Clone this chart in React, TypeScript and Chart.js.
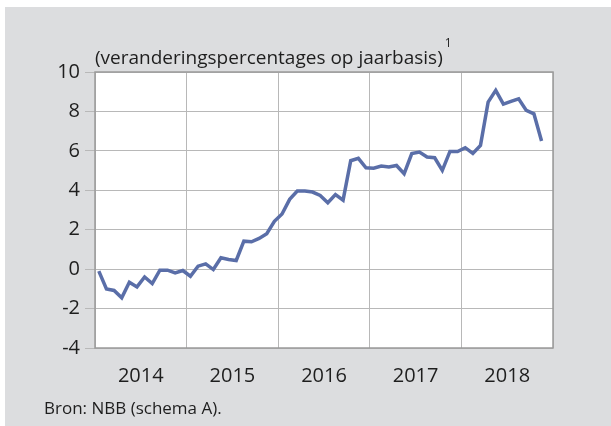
import { useEffect, useRef } from 'react';
import { Chart, registerables } from 'chart.js';

Chart.register(...registerables);

// ---- Data ----
const years = ['2014', '2015', '2016', '2017', '2018'];
const monthsPerYear = 12;
// Monthly year-on-year change (%), Jan 2014 – Nov 2018
const values2014 = [-0.1, -1.0, -1.08, -1.45, -0.66, -0.9, -0.4, -0.73, -0.05, -0.05, -0.19, -0.07];
const values2015 = [-0.36, 0.15, 0.27, -0.02, 0.58, 0.49, 0.44, 1.42, 1.39, 1.56, 1.8, 2.43];
const values2016 = [2.8, 3.54, 3.96, 3.96, 3.91, 3.74, 3.37, 3.78, 3.5, 5.5, 5.62, 5.14];
const values2017 = [5.12, 5.23, 5.18, 5.26, 4.84, 5.86, 5.94, 5.69, 5.65, 5.01, 5.97, 5.97];
const values2018 = [6.16, 5.87, 6.28, 8.47, 9.07, 8.37, 8.51, 8.64, 8.05, 7.88, 6.5];
const seriesValues = [...values2014, ...values2015, ...values2016, ...values2017, ...values2018];

const yMin = -4;
const yMax = 10;
const yStep = 2;

const titleText = '(veranderingspercentages op jaarbasis)';
const footnoteMark = '1';
const sourceText = 'Bron: NBB (schema A).';

// ---- Styles ----
const FONT = "'Open Sans', 'DejaVu Sans', sans-serif";
const TEXT_COLOR = '#1e1e1e';
const PANEL_BG = '#dcdddf';
const GRID_COLOR = '#b8b8b8';
const BORDER_COLOR = '#9a9a9a';
const LINE_COLOR = '#5a6ea8';

const backgroundPlugin = {
  id: 'panelBackground',
  beforeDraw(chart: any) {
    const { ctx, width, height, chartArea } = chart;
    ctx.save();
    ctx.fillStyle = '#ffffff';
    ctx.fillRect(0, 0, width, height);
    ctx.fillStyle = PANEL_BG;
    ctx.fillRect(5, 7, width - 5, height - 7);
    ctx.fillStyle = '#ffffff';
    ctx.fillRect(chartArea.left, chartArea.top, chartArea.right - chartArea.left, chartArea.bottom - chartArea.top);
    ctx.restore();
  },
  beforeDatasetsDraw(chart: any) {
    const { ctx, chartArea } = chart;
    ctx.save();
    ctx.strokeStyle = BORDER_COLOR;
    ctx.lineWidth = 1.5;
    ctx.strokeRect(chartArea.left, chartArea.top, chartArea.right - chartArea.left, chartArea.bottom - chartArea.top);
    ctx.restore();
  },
  afterDraw(chart: any) {
    const { ctx, chartArea } = chart;
    ctx.save();
    ctx.fillStyle = TEXT_COLOR;
    ctx.textBaseline = 'alphabetic';
    ctx.textAlign = 'left';
    ctx.font = `19px ${FONT}`;
    const tx = chartArea.left;
    ctx.fillText(titleText, tx, 63.5);
    const w = ctx.measureText(titleText).width;
    ctx.font = `12px ${FONT}`;
    ctx.fillText(footnoteMark, tx + w + 2, 47);
    ctx.font = `17px ${FONT}`;
    ctx.fillText(sourceText, 44, 414);
    ctx.restore();
  },
};

export default function App() {
  const canvasRef = useRef<HTMLCanvasElement | null>(null);

  useEffect(() => {
    if (!canvasRef.current) return;
    const totalMonths = years.length * monthsPerYear;
    const points = seriesValues.map((v, i) => ({ x: i + 0.5, y: v }));

    const chart = new Chart(canvasRef.current, {
      type: 'line',
      data: {
        datasets: [
          {
            data: points,
            borderColor: LINE_COLOR,
            borderWidth: 3.5,
            pointRadius: 0,
            tension: 0,
            fill: false,
          },
        ],
      },
      options: {
        responsive: false,
        animation: false,
        layout: { padding: { left: 0, right: 58, top: 72, bottom: 38 } },
        plugins: {
          legend: { display: false },
          tooltip: { enabled: false },
          title: { display: false },
        },
        scales: {
          x: {
            type: 'linear',
            min: 0,
            max: totalMonths,
            afterFit: (scale: any) => {
              scale.height = 40;
            },
            ticks: {
              stepSize: monthsPerYear / 2,
              autoSkip: false,
              maxRotation: 0,
              padding: 16,
              color: TEXT_COLOR,
              font: { family: FONT, size: 20 },
              callback: (value: any) => {
                const v = Number(value);
                if (v % monthsPerYear === monthsPerYear / 2) return years[(v - monthsPerYear / 2) / monthsPerYear];
                return '';
              },
            },
            grid: {
              drawTicks: false,
              lineWidth: 1,
              color: (ctx: any) =>
                ctx.tick && ctx.tick.value % monthsPerYear === 0 ? GRID_COLOR : 'rgba(0,0,0,0)',
            },
            border: { display: false },
          },
          y: {
            type: 'linear',
            min: yMin,
            max: yMax,
            afterFit: (scale: any) => {
              scale.width = 95;
            },
            ticks: {
              stepSize: yStep,
              padding: 5,
              color: TEXT_COLOR,
              font: { family: FONT, size: 20 },
            },
            grid: {
              color: GRID_COLOR,
              lineWidth: 1,
              drawTicks: true,
              tickLength: 10,
              tickColor: GRID_COLOR,
            },
            border: { display: false },
          },
        },
      },
      plugins: [backgroundPlugin],
    });

    return () => chart.destroy();
  }, []);

  return (
    <div style={{ position: 'absolute', left: 0, top: 0, width: 611, height: 426 }}>
      <canvas ref={canvasRef} width={611} height={426} style={{ display: 'block', width: 611, height: 426 }} />
    </div>
  );
}
